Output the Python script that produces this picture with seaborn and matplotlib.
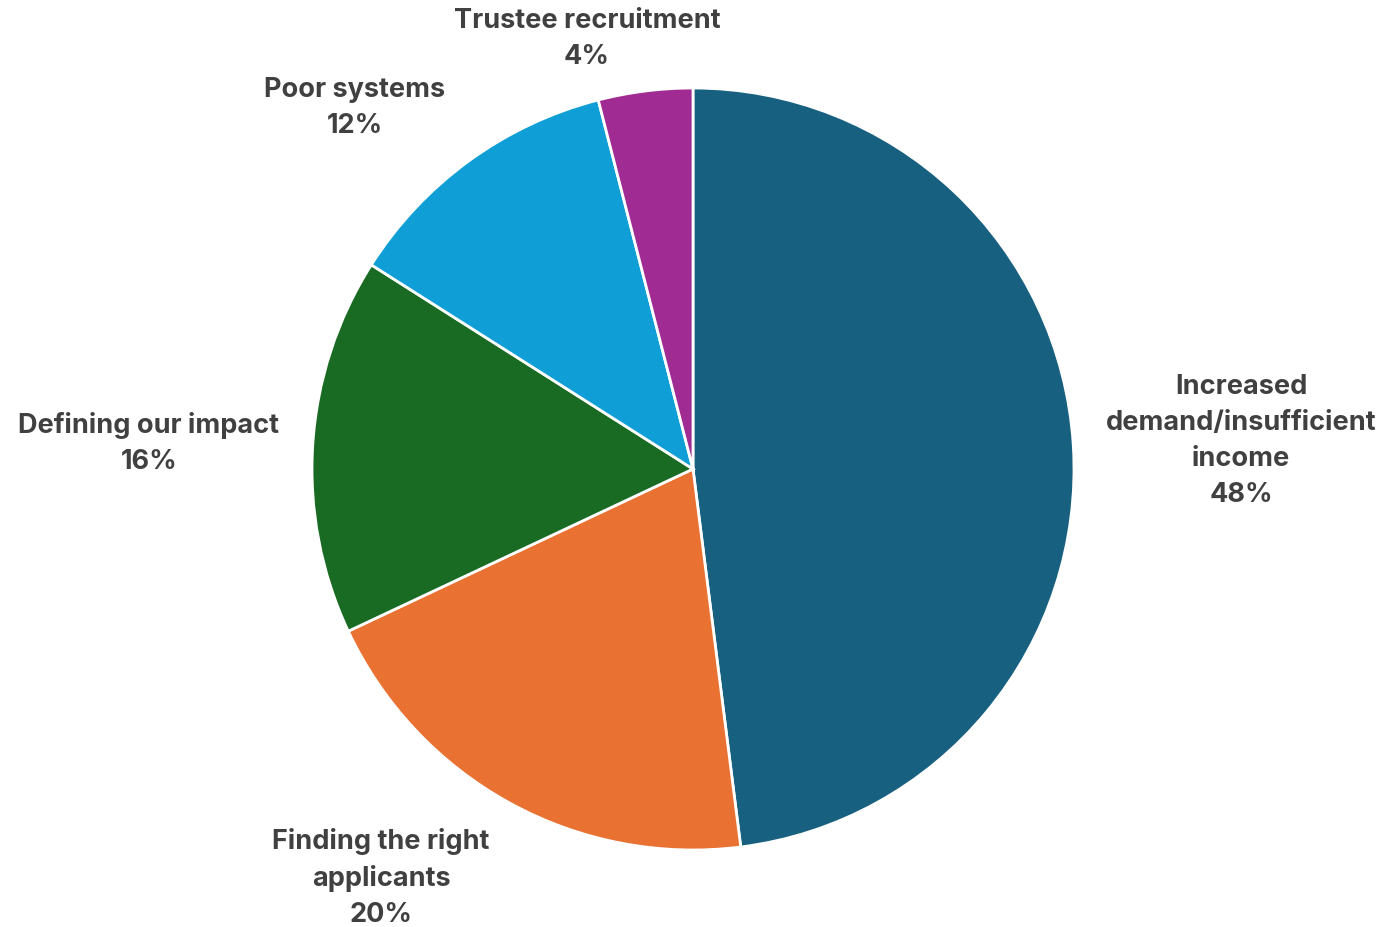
import matplotlib
matplotlib.use("Agg")
import matplotlib.pyplot as plt
import seaborn as sns

# Daten
labels = ["Increased\ndemand/insufficient\nincome", "Finding the right\napplicants",
          "Defining our impact", "Poor systems", "Trustee recruitment"]
shares = [48, 20, 16, 12, 4]
colors = ["#17607F", "#E97132", "#196B24", "#0F9ED5", "#A02B93"]

sns.set_theme(style="white")
plt.rcParams["font.family"] = ["Inter", "DejaVu Sans"]

W, H = 1385, 927
fig = plt.figure(figsize=(W / 100, H / 100), dpi=100)
ax = fig.add_axes([0, 0, 1, 1])

# Kreis: Mitte bei (693, 469) px, Radius 381 px
cx, cy, r = 693, 469, 381
ax.pie(shares, colors=colors, startangle=90, counterclock=False, radius=1,
       wedgeprops=dict(edgecolor="white", linewidth=2))
ax.set_aspect("auto")
ax.set_xlim(-cx / r, (W - cx) / r)
ax.set_ylim(-(H - cy) / r, cy / r)
ax.axis("off")

# Beschriftungen (Mittelpunkt in Pixel)
label_pos = [(1241, 441), (381, 878), (149, 443), (355, 108), (587, 39)]
for lab, val, (px, py) in zip(labels, shares, label_pos):
    fig.text(px / W, 1 - py / H, f"{lab}\n{val}%", ha="center", va="center",
             fontsize=19.5, fontweight="bold", color="#404040", linespacing=1.5)

fig.savefig("out.png", dpi=100)
